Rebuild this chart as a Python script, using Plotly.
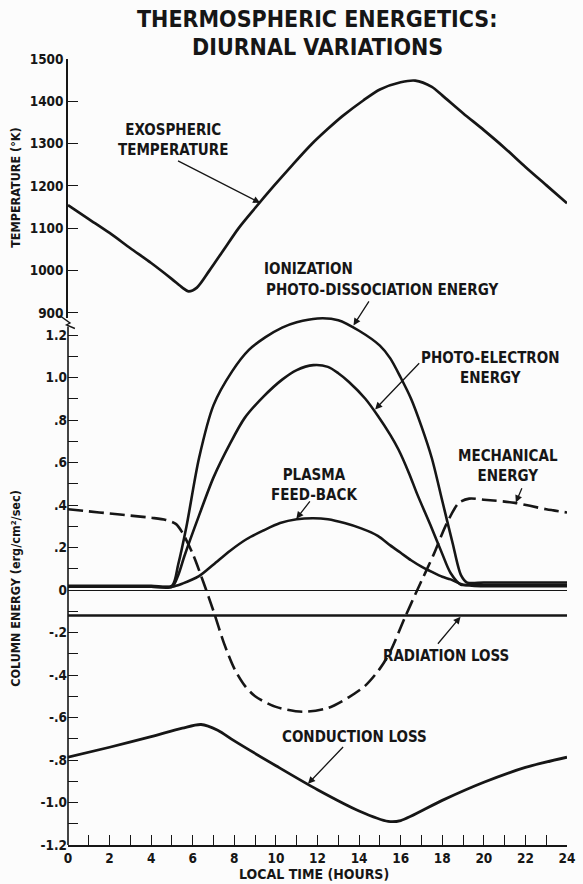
import numpy as np
import plotly.graph_objects as go

# ---------------- data ----------------
hours_temp = [0, 1, 2, 3, 4, 5, 5.5, 5.8, 6.2, 6.8, 7.5, 8.2, 9.0, 9.9, 10.8, 11.7, 12.5,
              13.2, 14.2, 15, 16, 16.7, 17.5, 18, 19, 20, 21, 22, 23, 24]
exo_temp_K = [1155, 1122, 1089, 1053, 1018, 980, 960, 951, 960, 1000, 1050, 1100, 1148,
              1200, 1250, 1298, 1335, 1365, 1402, 1428, 1445, 1449, 1434, 1414, 1372,
              1332, 1290, 1245, 1202, 1159]

hours_pd = [0, 2, 4, 5.0, 5.3, 5.7, 6.3, 7.0, 7.9, 8.7, 9.5, 10.3, 11.0, 12.0, 13.0,
            14.0, 15.0, 15.5, 16.0, 16.5, 17.0, 17.5, 18.0, 18.5, 18.9, 19.2, 20, 22, 24]
photo_dissociation = [0.02, 0.02, 0.02, 0.02, 0.12, 0.30, 0.62, 0.87, 1.03, 1.13, 1.19,
                      1.235, 1.26, 1.278, 1.27, 1.22, 1.15, 1.09, 1.0, 0.9, 0.77, 0.62,
                      0.42, 0.22, 0.07, 0.035, 0.035, 0.035, 0.035]

hours_pe = [0, 2, 4, 5.0, 5.3, 5.6, 6.3, 7.0, 7.8, 8.5, 9.4, 10.3, 11.0, 11.8, 12.5,
            13.0, 13.5, 14.3, 14.9, 15.5, 15.9, 16.4, 16.8, 17.5, 18.0, 18.4, 18.9,
            19.3, 20, 22, 24]
photo_electron = [0.015, 0.015, 0.015, 0.015, 0.07, 0.16, 0.35, 0.53, 0.69, 0.81, 0.91,
                  0.99, 1.035, 1.058, 1.05, 1.02, 0.98, 0.9, 0.82, 0.73, 0.66, 0.55,
                  0.45, 0.29, 0.17, 0.08, 0.025, 0.025, 0.025, 0.025, 0.025]

hours_pf = [0, 2, 4, 5.0, 5.5, 6.3, 7.0, 7.8, 8.6, 9.4, 10.2, 11.0, 11.8, 12.5, 13.3,
            14.1, 14.9, 15.5, 16.0, 16.5, 17.0, 17.5, 18.0, 18.4, 19.0, 20, 22, 24]
plasma_feedback = [0.015, 0.015, 0.015, 0.015, 0.03, 0.065, 0.12, 0.185, 0.24, 0.28,
                   0.315, 0.333, 0.338, 0.333, 0.315, 0.29, 0.255, 0.21, 0.175, 0.14,
                   0.11, 0.085, 0.062, 0.05, 0.025, 0.018, 0.018, 0.018]

hours_me = [0, 1, 2, 3, 4, 4.7, 5.2, 5.5, 6.0, 6.5, 7.0, 7.5, 8.0, 8.5, 9.0, 10.0, 11.3,
            12.5, 13.5, 14.3, 15.0, 15.5, 16.2, 16.8, 17.6, 18.2, 18.8, 19.3, 20, 21.5,
            23, 24]
mechanical = [0.38, 0.37, 0.36, 0.35, 0.34, 0.33, 0.31, 0.27, 0.17, 0.04, -0.10, -0.25,
              -0.37, -0.45, -0.50, -0.55, -0.573, -0.555, -0.505, -0.45, -0.37, -0.29,
              -0.13, 0.0, 0.17, 0.31, 0.41, 0.43, 0.425, 0.41, 0.38, 0.365]

hours_rad = [0, 24]
radiation_loss = [-0.12, -0.12]

hours_cond = [0, 2, 4, 5.5, 6.4, 7.2, 8, 10, 12, 14, 15.4, 16, 18, 20, 22, 24]
conduction_loss = [-0.787, -0.74, -0.69, -0.65, -0.633, -0.66, -0.71, -0.827, -0.94,
                   -1.04, -1.089, -1.085, -0.99, -0.905, -0.835, -0.787]

hour_major = list(range(0, 25, 2))
hour_minor = list(range(1, 24, 2))
temp_ticks = [900, 1000, 1100, 1200, 1300, 1400, 1500]
energy_major = [1.2, 1.0, 0.8, 0.6, 0.4, 0.2, 0.0, -0.2, -0.4, -0.6, -0.8, -1.0, -1.2]
energy_labels = ["1.2", "1.0", ".8", ".6", ".4", ".2", "0", "-.2", "-.4", "-.6", "-.8",
                 "-1.0", "-1.2"]
energy_minor = [1.1, 0.9, 0.7, 0.5, 0.3, 0.1, -0.1, -0.3, -0.5, -0.7, -0.9, -1.1]

# ---------------- styling ----------------
INK = "#161616"
FONT = "DejaVu Sans Condensed, Lato, DejaVu Sans"
W, H = 583, 884
ML, MR, MT, MB = 68, 8, 59, 39
plot_w = W - ML - MR
plot_h = H - MT - MB

E_RANGE = [-1.2, 1.3]
T_RANGE = [888, 1500]
PX_PER_E = 212.5
PX_PER_K = 0.4233
bottom_top = (E_RANGE[1] - E_RANGE[0]) * PX_PER_E / plot_h
top_bottom = 1 - (T_RANGE[1] - T_RANGE[0]) * PX_PER_K / plot_h


def pp(px, py):
    """page pixel -> paper coordinates"""
    return (px - ML) / plot_w, (H - MB - py) / plot_h


def line(width=2.6, dash=None):
    d = dict(color=INK, width=width, shape="spline", smoothing=0.8)
    if dash:
        d["dash"] = dash
    return d


fig = go.Figure()
fig.add_trace(go.Scatter(x=hours_temp, y=exo_temp_K, mode="lines", line=line(2.7),
                         xaxis="x2", yaxis="y2", name="Exospheric temperature"))
fig.add_trace(go.Scatter(x=hours_pd, y=photo_dissociation, mode="lines", line=line(2.6),
                         name="Ionization photo-dissociation energy"))
fig.add_trace(go.Scatter(x=hours_pe, y=photo_electron, mode="lines", line=line(2.6),
                         name="Photo-electron energy"))
fig.add_trace(go.Scatter(x=hours_pf, y=plasma_feedback, mode="lines", line=line(2.6),
                         name="Plasma feed-back"))
fig.add_trace(go.Scatter(x=hours_me, y=mechanical, mode="lines",
                         line=line(2.6, dash="15px,6px"), name="Mechanical energy"))
fig.add_trace(go.Scatter(x=hours_rad, y=radiation_loss, mode="lines",
                         line=dict(color=INK, width=2.6), name="Radiation loss"))
fig.add_trace(go.Scatter(x=hours_cond, y=conduction_loss, mode="lines", line=line(2.8),
                         name="Conduction loss"))

label_font = dict(family=FONT, size=15, color=INK, weight="bold")


def label(text, x, y, xref="x", yref="y", xanchor="center"):
    fig.add_annotation(text=text, x=x, y=y, xref=xref, yref=yref, showarrow=False,
                       font=label_font, align="center", xanchor=xanchor,
                       yanchor="middle")


def pointer(x_tail, y_tail, x_head, y_head, xref="x", yref="y"):
    fig.add_annotation(text="", x=x_head, y=y_head, ax=x_tail, ay=y_tail,
                       xref=xref, yref=yref, axref=xref, ayref=yref,
                       showarrow=True, arrowhead=2, arrowsize=1.1, arrowwidth=1.3,
                       arrowcolor=INK)


# curve labels
label("EXOSPHERIC<br>TEMPERATURE", 5.07, 1308, "x2", "y2")
pointer(5.22, 1261, 9.245, 1160, "x2", "y2")
label("IONIZATION", 9.33, 1003, "x2", "y2", xanchor="left")
label("PHOTO-DISSOCIATION ENERGY", 9.41, 954, "x2", "y2", xanchor="left")
pointer(14.52, 1.365, 13.73, 1.245)
label("PHOTO-ELECTRON<br>ENERGY", 20.31, 1.045)
pointer(16.96, 1.074, 14.77, 0.85)
label("MECHANICAL<br>ENERGY", 21.15, 0.583)
pointer(21.86, 0.486, 21.54, 0.412)
label("PLASMA<br>FEED-BACK", 11.85, 0.495)
pointer(11.69, 0.424, 10.98, 0.335)
label("RADIATION LOSS", 18.17, -0.31)
pointer(17.73, -0.26, 18.88, -0.126)
label("CONDUCTION LOSS", 13.8, -0.69)
pointer(13.3, -0.732, 11.54, -0.912)

# titles
title_font = dict(family=FONT, size=23, color=INK, weight="bold")
for text, py in (("THERMOSPHERIC ENERGETICS:", 18.5), ("DIURNAL VARIATIONS", 47)):
    tx, ty = pp(321, py)
    fig.add_annotation(text=text, x=tx, y=ty, xref="paper", yref="paper",
                       showarrow=False, font=title_font, xanchor="center",
                       yanchor="middle")

axis_title_font = dict(family=FONT, size=12.5, color=INK, weight="bold")
for text, py in (("TEMPERATURE (°K)", 187),
                 ("COLUMN ENERGY (erg/cm²/sec)", 588)):
    tx, ty = pp(14, py)
    fig.add_annotation(text=text, textangle=-90, x=tx, y=ty, xref="paper",
                       yref="paper", showarrow=False, font=axis_title_font,
                       xanchor="center", yanchor="middle")
tx, ty = pp(318, 874)
fig.add_annotation(text="LOCAL TIME (HOURS)", x=tx, y=ty, xref="paper", yref="paper",
                   showarrow=False, xanchor="center", yanchor="middle",
                   font=dict(family=FONT, size=14, color=INK, weight="bold"))

# lower vertical axis line and the axis break mark
fig.add_shape(type="line", xref="paper", yref="y", x0=0, x1=0, y0=-1.2, y1=1.24,
              line=dict(color=INK, width=1.6))
pts = [pp(59.5, 315.5), pp(70, 323), pp(66.5, 325), pp(75, 328.5)]
path = "M " + " L ".join(f"{x:.4f},{y:.4f}" for x, y in pts)
fig.add_shape(type="path", xref="paper", yref="paper", path=path,
              line=dict(color=INK, width=1.4))

tick_font = dict(family=FONT, size=13.5, color=INK, weight="bold")
tick_style = dict(ticks="inside", ticklen=10, tickwidth=1.4, tickcolor=INK)
fig.update_layout(
    width=W, height=H,
    margin=dict(l=ML, r=MR, t=MT, b=MB, pad=0),
    paper_bgcolor="#fcfcfc", plot_bgcolor="rgba(0,0,0,0)",
    showlegend=False,
    xaxis=dict(domain=[0, 1], range=[0, 24], anchor="y", tickmode="array",
               tickvals=hour_major, ticktext=[str(h) for h in hour_major],
               **tick_style,
               minor=dict(tickmode="array", tickvals=hour_minor, **tick_style),
               showline=True, linecolor=INK, linewidth=1.6,
               showgrid=False, zeroline=False, tickfont=tick_font,
               ticklabeloverflow="allow"),
    xaxis2=dict(domain=[0, 1], range=[0, 24], anchor="y2", matches="x",
                visible=False),
    yaxis=dict(domain=[0, bottom_top], range=E_RANGE, anchor="x", tickmode="array",
               tickvals=energy_major, ticktext=energy_labels, **tick_style,
               minor=dict(tickmode="array", tickvals=energy_minor, **tick_style),
               showline=False, showgrid=False, zeroline=True, zerolinecolor=INK,
               zerolinewidth=1, tickfont=tick_font),
    yaxis2=dict(domain=[top_bottom, 1], range=T_RANGE, anchor="x2", tickmode="array",
                tickvals=temp_ticks, **tick_style,
                showline=True, linecolor=INK, linewidth=1.6,
                showgrid=False, zeroline=False, tickfont=tick_font),
)

fig.write_html("out.html")
